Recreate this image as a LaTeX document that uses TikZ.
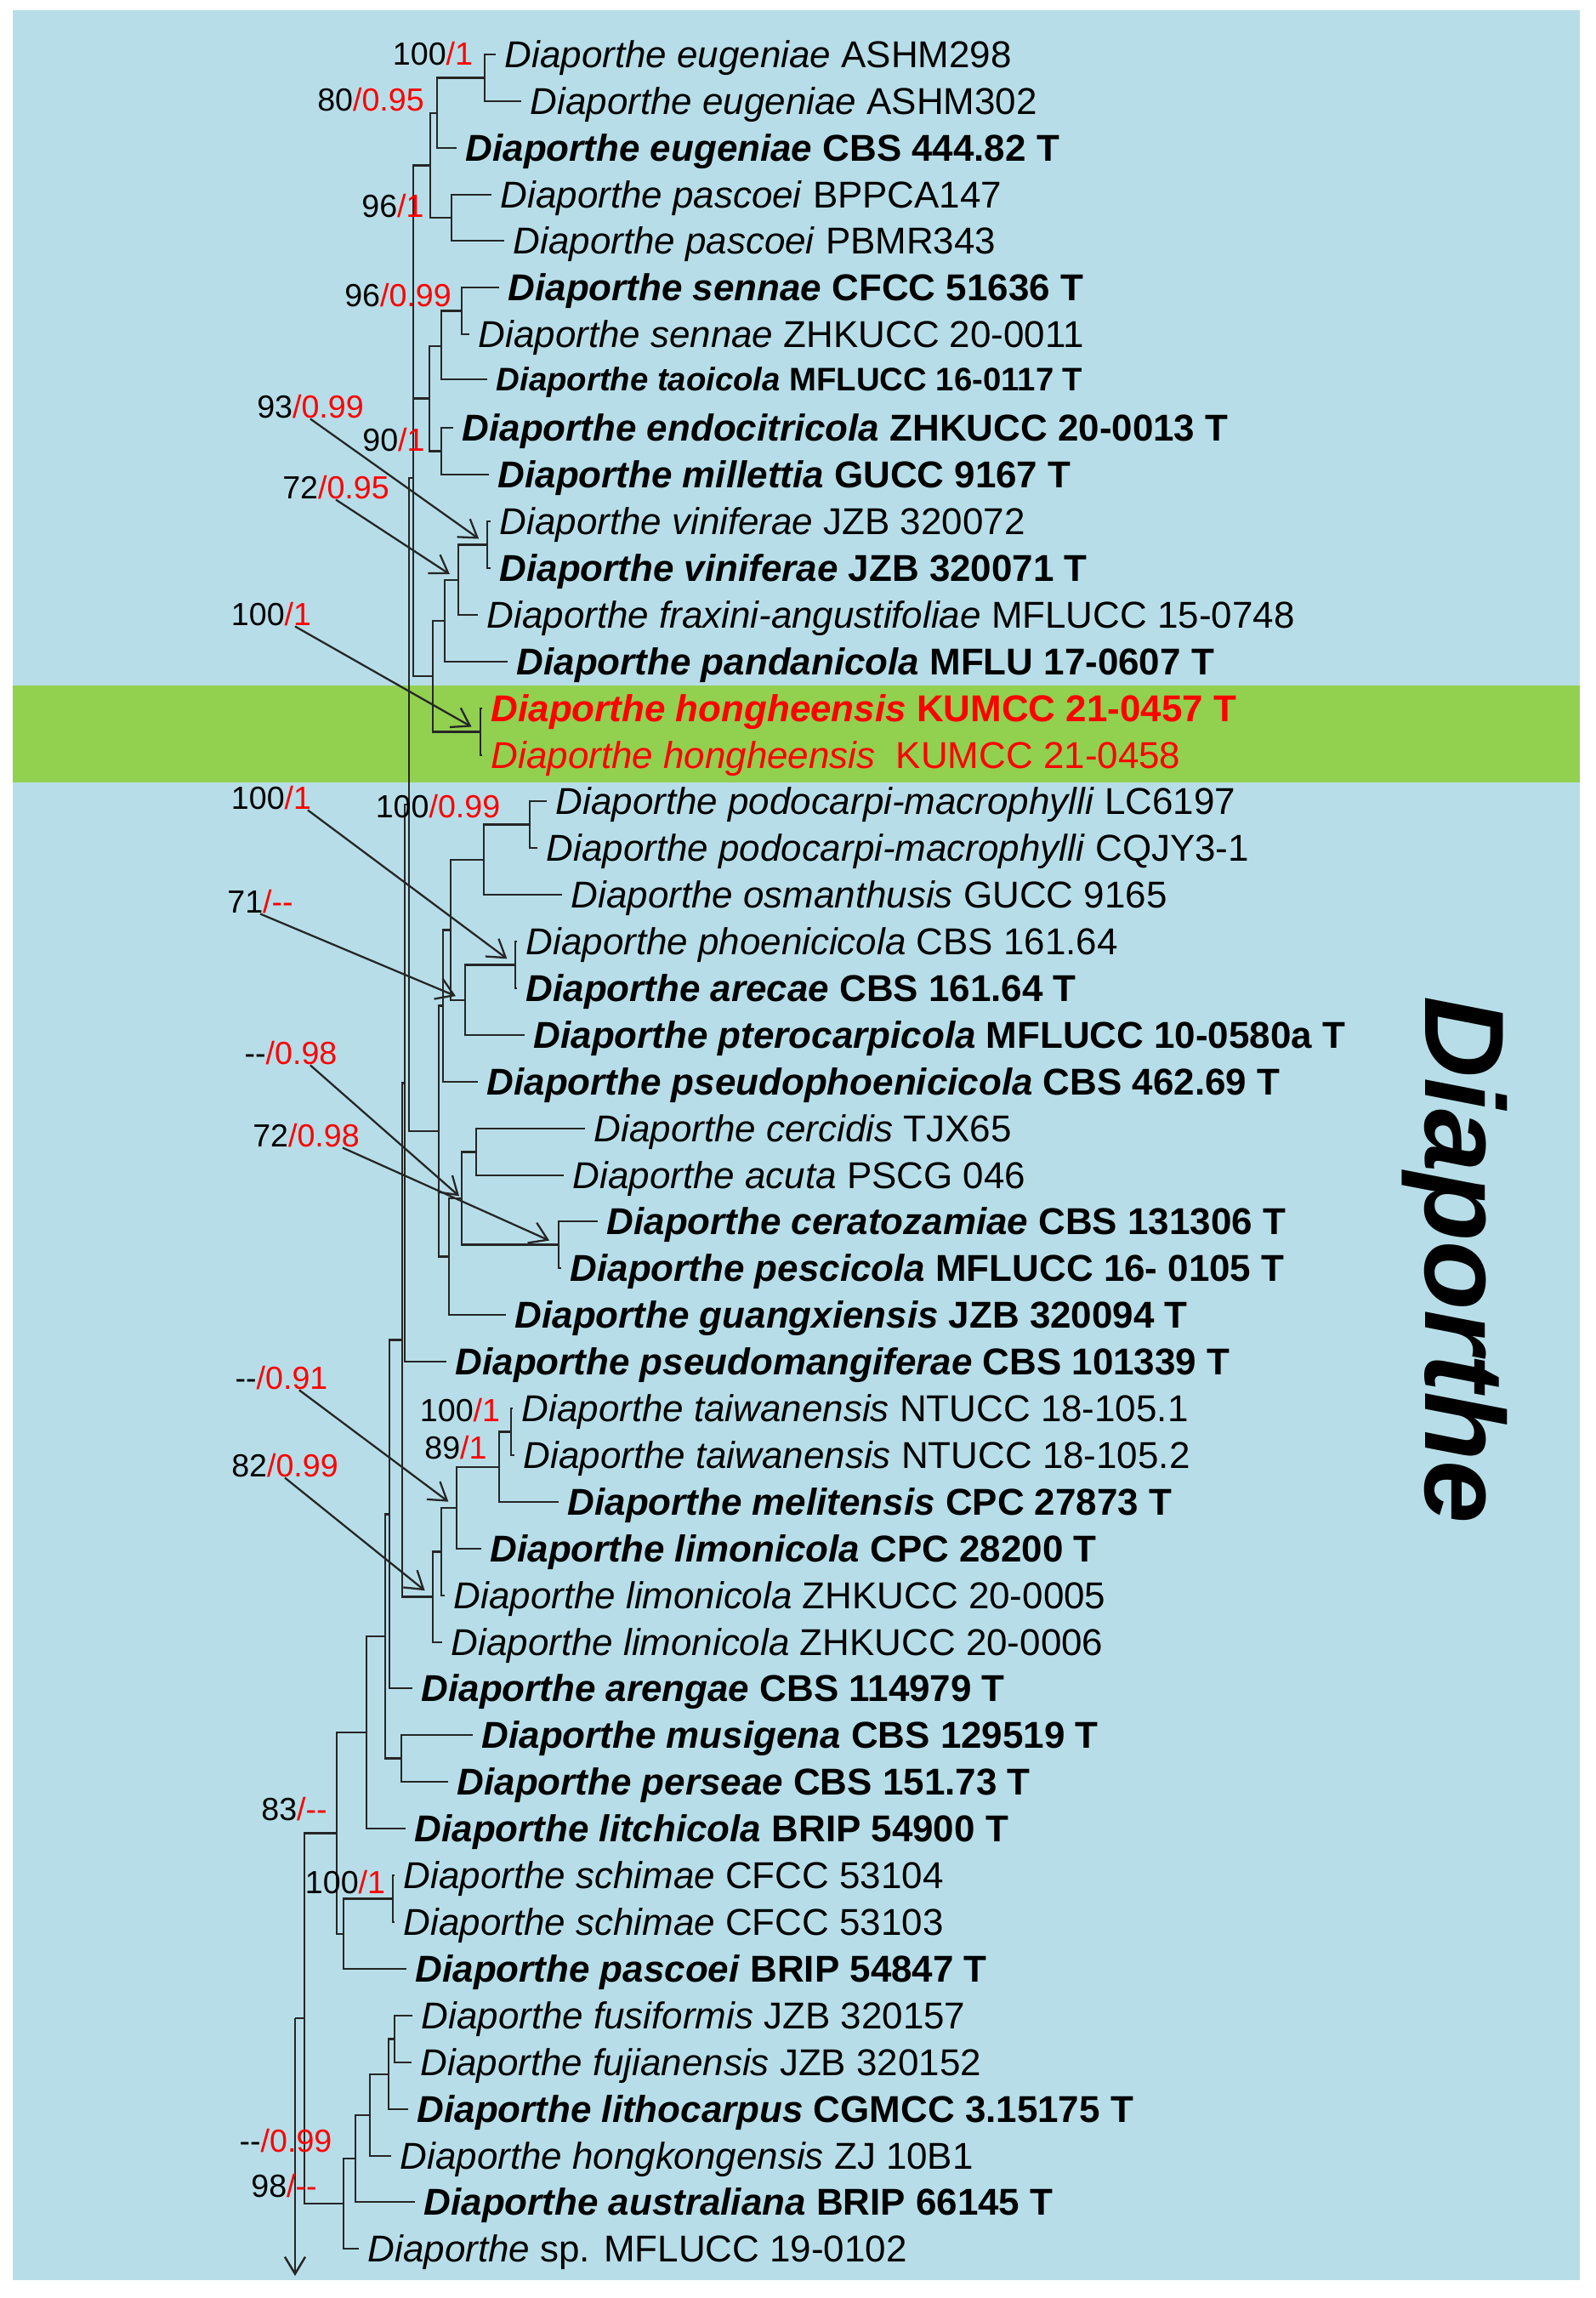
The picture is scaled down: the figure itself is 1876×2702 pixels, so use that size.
\documentclass[tikz,border=0pt]{standalone}
\usepackage{fontspec}
\setmainfont{Liberation Sans}
\usetikzlibrary{arrows.meta,calc,positioning}

\definecolor{treeblue}{RGB}{183,222,232}
\definecolor{newgreen}{RGB}{146,208,80}

% taxon labels: plain and type strain (bold)
\newcommand{\dia}[2]{\textit{Diaporthe #1} #2}
\newcommand{\bdia}[2]{\textbf{\textit{Diaporthe #1} #2}}
% support values ML/BI
\newcommand{\bsv}[2]{#1\textcolor{red}{/#2}}

\begin{document}
\begin{tikzpicture}[x=0.1mm,y=-0.1mm,
every node/.style={font=\fontsize{12.5}{14}\selectfont},
taxon/.style={anchor=west,inner xsep=1mm,inner ysep=0pt,text height=4mm,text depth=0.9mm},
support/.style={inner sep=0pt,font=\fontsize{10.7}{12}\selectfont},
branch/.style={line width=0.7pt,draw=black!85},
pointer/.style={line width=0.65pt,draw=black!85,-{Straight Barb[length=2mm,width=2.6mm]},shorten >=1.2mm}]
\useasboundingbox (0,0) rectangle (1876,2702);
\fill[white] (0,0) rectangle (1876,2702);
\fill[treeblue] (15,12) rectangle (1858,2681);
\fill[newgreen] (15,806) rectangle (1858,920);

% taxa
\node[taxon] (t1) at (583,64) {\dia{eugeniae}{ASHM298}};
\node[taxon] (t2) at (613,119) {\dia{eugeniae}{ASHM302}};
\node[taxon] (t3) at (537,174) {\bdia{eugeniae}{CBS 444.82 T}};
\node[taxon] (t4) at (578,229) {\dia{pascoei}{BPPCA147}};
\node[taxon] (t5) at (593,283) {\dia{pascoei}{PBMR343}};
\node[taxon] (t6) at (587,338) {\bdia{sennae}{CFCC 51636 T}};
\node[taxon] (t7) at (552,393) {\dia{sennae}{ZHKUCC 20-0011}};
\node[taxon,font=\fontsize{10.9}{12}\selectfont,text height=3.5mm,text depth=0.8mm] (t8) at (573,446) {\bdia{taoicola}{MFLUCC 16-0117 T}};
\node[taxon] (t9) at (533,503) {\bdia{endocitricola}{ZHKUCC 20-0013 T}};
\node[taxon] (t10) at (575,558) {\bdia{millettia}{GUCC 9167 T}};
\node[taxon] (t11) at (577,613) {\dia{viniferae}{JZB 320072}};
\node[taxon] (t12) at (577,668) {\bdia{viniferae}{JZB 320071 T}};
\node[taxon] (t13) at (562,723) {\dia{fraxini-angustifoliae}{MFLUCC 15-0748}};
\node[taxon] (t14) at (597,778) {\bdia{pandanicola}{MFLU 17-0607 T}};
\node[taxon,text=red] (t15) at (567,833) {\bdia{hongheensis}{KUMCC 21-0457 T}};
\node[taxon,text=red] (t16) at (567,888) {\dia{hongheensis}{\ KUMCC 21-0458}};
\node[taxon] (t17) at (643,942) {\dia{podocarpi-macrophylli}{LC6197}};
\node[taxon] (t18) at (632,997) {\dia{podocarpi-macrophylli}{CQJY3-1}};
\node[taxon] (t19) at (661,1052) {\dia{osmanthusis}{GUCC 9165}};
\node[taxon] (t20) at (608,1107) {\dia{phoenicicola}{CBS 161.64}};
\node[taxon] (t21) at (608,1162) {\bdia{arecae}{CBS 161.64 T}};
\node[taxon] (t22) at (617,1217) {\bdia{pterocarpicola}{MFLUCC 10-0580a T}};
\node[taxon] (t23) at (562,1272) {\bdia{pseudophoenicicola}{CBS 462.69 T}};
\node[taxon] (t24) at (688,1327) {\dia{cercidis}{TJX65}};
\node[taxon] (t25) at (663,1382) {\dia{acuta}{PSCG 046}};
\node[taxon] (t26) at (703,1436) {\bdia{ceratozamiae}{CBS 131306 T}};
\node[taxon] (t27) at (660,1491) {\bdia{pescicola}{MFLUCC 16- 0105 T}};
\node[taxon] (t28) at (595,1546) {\bdia{guangxiensis}{JZB 320094 T}};
\node[taxon] (t29) at (525,1601) {\bdia{pseudomangiferae}{CBS 101339 T}};
\node[taxon] (t30) at (603,1656) {\dia{taiwanensis}{NTUCC 18-105.1}};
\node[taxon] (t31) at (605,1711) {\dia{taiwanensis}{NTUCC 18-105.2}};
\node[taxon] (t32) at (657,1766) {\bdia{melitensis}{CPC 27873 T}};
\node[taxon] (t33) at (566,1821) {\bdia{limonicola}{CPC 28200 T}};
\node[taxon] (t34) at (523,1876) {\dia{limonicola}{ZHKUCC 20-0005}};
\node[taxon] (t35) at (520,1931) {\dia{limonicola}{ZHKUCC 20-0006}};
\node[taxon] (t36) at (485,1985) {\bdia{arengae}{CBS 114979 T}};
\node[taxon] (t37) at (556,2040) {\bdia{musigena}{CBS 129519 T}};
\node[taxon] (t38) at (527,2095) {\bdia{perseae}{CBS 151.73 T}};
\node[taxon] (t39) at (477,2150) {\bdia{litchicola}{BRIP 54900 T}};
\node[taxon] (t40) at (464,2205) {\dia{schimae}{CFCC 53104}};
\node[taxon] (t41) at (464,2260) {\dia{schimae}{CFCC 53103}};
\node[taxon] (t42) at (478,2315) {\bdia{pascoei}{BRIP 54847 T}};
\node[taxon] (t43) at (485,2370) {\dia{fusiformis}{JZB 320157}};
\node[taxon] (t44) at (484,2425) {\dia{fujianensis}{JZB 320152}};
\node[taxon] (t45) at (480,2480) {\bdia{lithocarpus}{CGMCC 3.15175 T}};
\node[taxon] (t46) at (460,2535) {\dia{hongkongensis}{ZJ 10B1}};
\node[taxon] (t47) at (488,2589) {\bdia{australiana}{BRIP 66145 T}};
\node[taxon] (t48) at (422,2644) {\textit{Diaporthe} sp. MFLUCC 19-0102};

% internal nodes
\coordinate (n_eug1) at (570,91.5);
\coordinate (n_eug2) at (514,132.8);
\coordinate (n_pas) at (531,256);
\coordinate (n_ep) at (506,194.4);
\coordinate (n_sen) at (543,365.5);
\coordinate (n_st) at (519,406.8);
\coordinate (n_em) at (519,530.5);
\coordinate (n_stem) at (505,468.6);
\coordinate (n_vin) at (573,640.5);
\coordinate (n_vf) at (539,681.8);
\coordinate (n_vfp) at (523,729.9);
\coordinate (n_hon) at (565,860.5);
\coordinate (n_vh) at (509,795.2);
\coordinate (n_A) at (486,562);
\coordinate (n_pod) at (623,969.5);
\coordinate (n_po) at (569,1010.8);
\coordinate (n_pa) at (606,1134.5);
\coordinate (n_pap) at (547,1175.8);
\coordinate (n_pp) at (530,1093.3);
\coordinate (n_ppp) at (521,1182.6);
\coordinate (n_ca) at (560,1354.5);
\coordinate (n_cp) at (657,1463.5);
\coordinate (n_cap) at (543,1409);
\coordinate (n_cg) at (528,1477.5);
\coordinate (n_B) at (516,1330);
\coordinate (n_tai) at (601,1683.5);
\coordinate (n_tm) at (587,1724.8);
\coordinate (n_tml) at (537,1772.9);
\coordinate (n_tl5) at (519,1824.4);
\coordinate (n_C) at (509,1877.7);
\coordinate (n_mp) at (472,2067.5);
\coordinate (n_sch) at (462,2232.5);
\coordinate (n_sp) at (404,2273.8);
\coordinate (n_l5) at (464,2397.5);
\coordinate (n_l4) at (457,2438.8);
\coordinate (n_l3) at (435,2486.9);
\coordinate (n_l2) at (418,2538);
\coordinate (n_low) at (404,2591);
\coordinate (bb481) at (481,946);
\coordinate (bb476) at (476,1273.5);
\coordinate (bb473) at (473,1575.6);
\coordinate (bb458) at (458,1780.3);
\coordinate (bb453) at (453,1923.9);
\coordinate (bb431) at (431,2037);
\coordinate (bb396) at (396,2155.4);
\coordinate (bb358) at (358,2373.2);
\coordinate (root) at (347,2373.2);
\coordinate (rootend) at (347,2676);

% branches
\draw[branch] (n_eug1) |- (t1.west) (n_eug1) |- (t2.west);
\draw[branch] (n_eug2) |- (n_eug1) (n_eug2) |- (t3.west);
\draw[branch] (n_pas) |- (t4.west) (n_pas) |- (t5.west);
\draw[branch] (n_ep) |- (n_eug2) (n_ep) |- (n_pas);
\draw[branch] (n_sen) |- (t6.west) (n_sen) |- (t7.west);
\draw[branch] (n_st) |- (n_sen) (n_st) |- (t8.west);
\draw[branch] (n_em) |- (t9.west) (n_em) |- (t10.west);
\draw[branch] (n_stem) |- (n_st) (n_stem) |- (n_em);
\draw[branch] (n_vin) |- (t11.west) (n_vin) |- (t12.west);
\draw[branch] (n_vf) |- (n_vin) (n_vf) |- (t13.west);
\draw[branch] (n_vfp) |- (n_vf) (n_vfp) |- (t14.west);
\draw[branch] (n_hon) |- (t15.west) (n_hon) |- (t16.west);
\draw[branch] (n_vh) |- (n_vfp) (n_vh) |- (n_hon);
\draw[branch] (n_A) |- (n_ep) (n_A) |- (n_stem) (n_A) |- (n_vh);
\draw[branch] (n_pod) |- (t17.west) (n_pod) |- (t18.west);
\draw[branch] (n_po) |- (n_pod) (n_po) |- (t19.west);
\draw[branch] (n_pa) |- (t20.west) (n_pa) |- (t21.west);
\draw[branch] (n_pap) |- (n_pa) (n_pap) |- (t22.west);
\draw[branch] (n_pp) |- (n_po) (n_pp) |- (n_pap);
\draw[branch] (n_ppp) |- (n_pp) (n_ppp) |- (t23.west);
\draw[branch] (n_ca) |- (t24.west) (n_ca) |- (t25.west);
\draw[branch] (n_cp) |- (t26.west) (n_cp) |- (t27.west);
\draw[branch] (n_cap) |- (n_ca) (n_cap) |- (n_cp);
\draw[branch] (n_cg) |- (n_cap) (n_cg) |- (t28.west);
\draw[branch] (n_B) |- (n_ppp) (n_B) |- (n_cg);
\draw[branch] (n_tai) |- (t30.west) (n_tai) |- (t31.west);
\draw[branch] (n_tm) |- (n_tai) (n_tm) |- (t32.west);
\draw[branch] (n_tml) |- (n_tm) (n_tml) |- (t33.west);
\draw[branch] (n_tl5) |- (n_tml) (n_tl5) |- (t34.west);
\draw[branch] (n_C) |- (n_tl5) (n_C) |- (t35.west);
\draw[branch] (n_mp) |- (t37.west) (n_mp) |- (t38.west);
\draw[branch] (n_sch) |- (t40.west) (n_sch) |- (t41.west);
\draw[branch] (n_sp) |- (n_sch) (n_sp) |- (t42.west);
\draw[branch] (n_l5) |- (t43.west) (n_l5) |- (t44.west);
\draw[branch] (n_l4) |- (n_l5) (n_l4) |- (t45.west);
\draw[branch] (n_l3) |- (n_l4) (n_l3) |- (t46.west);
\draw[branch] (n_l2) |- (n_l3) (n_l2) |- (t47.west);
\draw[branch] (n_low) |- (n_l2) (n_low) |- (t48.west);
\draw[branch] (bb481) |- (n_A) (bb481) |- (n_B);
\draw[branch] (bb476) |- (bb481) (bb476) |- (t29.west);
\draw[branch] (bb473) |- (bb476) (bb473) |- (n_C);
\draw[branch] (bb458) |- (bb473) (bb458) |- (t36.west);
\draw[branch] (bb453) |- (bb458) (bb453) |- (n_mp);
\draw[branch] (bb431) |- (bb453) (bb431) |- (t39.west);
\draw[branch] (bb396) |- (bb431) (bb396) |- (n_sp);
\draw[branch] (bb358) |- (bb396) (bb358) |- (n_low);
\draw[branch] (root) -- (bb358);
\draw[branch,-{Straight Barb[length=2mm,width=2.4mm]}] (root) -- (rootend);

% support values
\node[support] (s1) at (509,63) {\bsv{100}{1}};
\node[support] (s2) at (436,117) {\bsv{80}{0.95}};
\node[support] (s3) at (462,242) {\bsv{96}{1}};
\node[support] (s4) at (468,347) {\bsv{96}{0.99}};
\node[support] (s5) at (365,478) {\bsv{93}{0.99}};
\node[support] (s6) at (463,517) {\bsv{90}{1}};
\node[support] (s7) at (395,573) {\bsv{72}{0.95}};
\node[support] (s8) at (319,722) {\bsv{100}{1}};
\node[support] (s9) at (319,938) {\bsv{100}{1}};
\node[support] (s10) at (515,948) {\bsv{100}{0.99}};
\node[support] (s11) at (306,1060) {\bsv{71}{-{}-}};
\node[support] (s12) at (342,1238) {\bsv{-{}-}{0.98}};
\node[support] (s13) at (360,1335) {\bsv{72}{0.98}};
\node[support] (s14) at (331,1620) {\bsv{-{}-}{0.91}};
\node[support] (s15) at (335,1723) {\bsv{82}{0.99}};
\node[support] (s16) at (541,1658) {\bsv{100}{1}};
\node[support] (s17) at (536,1702) {\bsv{89}{1}};
\node[support] (s18) at (346,2127) {\bsv{83}{-{}-}};
\node[support] (s19) at (406,2213) {\bsv{100}{1}};
\node[support] (s20) at (336,2517) {\bsv{-{}-}{0.99}};
\node[support] (s21) at (334,2570) {\bsv{98}{-{}-}};

% pointers from values to their nodes
\draw[pointer] (s5.south) -- (n_vin);
\draw[pointer] (s7.south) -- (n_vf);
\draw[pointer] ([xshift=2.8mm]s8.south) -- (n_hon);
\draw[pointer] ([xshift=4.3mm]s9.south) -- (n_pa);
\draw[pointer] (s11.south) -- (n_pap);
\draw[pointer,shorten >=0.4mm] ([xshift=2.3mm]s12.south) -- (n_cap);
\draw[pointer] ([xshift=4.3mm]s13.south) -- (n_cp);
\draw[pointer] ([xshift=2.1mm]s14.south) -- (n_tml);
\draw[pointer] (s15.south) -- (n_C);

% genus
\node[rotate=-90,anchor=base west,inner sep=0pt,font=\fontsize{37.8}{40}\selectfont] (genus) at (1676,1171) {\textbf{\textit{Diaporthe}}};
\end{tikzpicture}
\end{document}
